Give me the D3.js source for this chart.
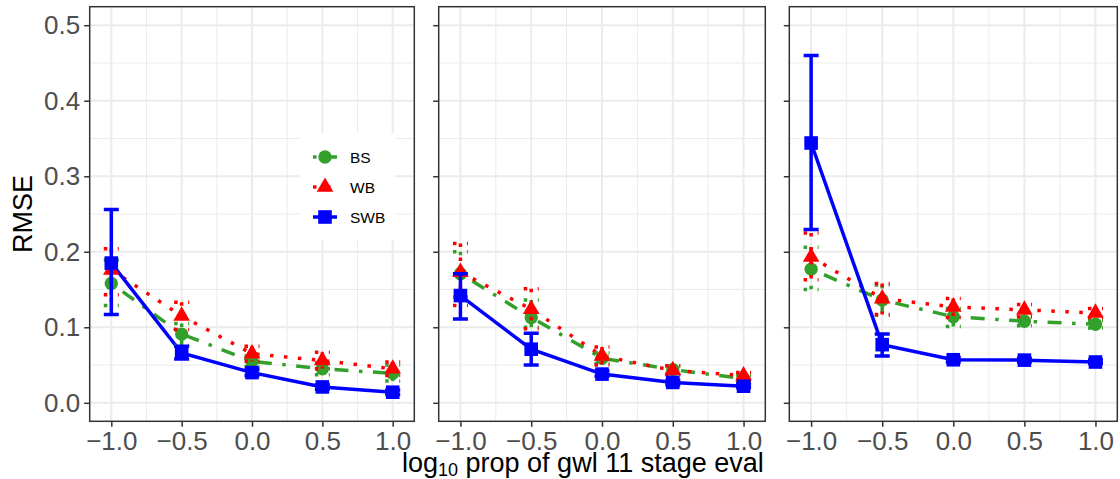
<!DOCTYPE html>
<html>
<head>
<meta charset="utf-8">
<script src="https://cdn.jsdelivr.net/npm/d3@7"></script>
<style>
  html, body { margin: 0; padding: 0; background: #ffffff; }
  svg { display: block; font-family: "Liberation Sans", Arial, sans-serif; }
</style>
</head>
<body>
<svg id="chart" width="1120" height="479"></svg>
<script>
// x positions (log10 proportion of stage evaluations)
const xValues = [-1, -0.5, 0, 0.5, 1];
const xTicks = [-1, -0.5, 0, 0.5, 1];
const yTicks = [0, 0.1, 0.2, 0.3, 0.4, 0.5];
const methods = ["BS", "WB", "SWB"];

// RMSE per panel: mean with lower / upper error bar ends
const bsMean = [
  [0.158, 0.091, 0.055, 0.045, 0.039],
  [0.171, 0.113, 0.059, 0.044, 0.032],
  [0.177, 0.136, 0.114, 0.108, 0.104]
];
const bsLow = [
  [0.129, 0.076, 0.048, 0.037, 0.029],
  [0.140, 0.100, 0.052, 0.039, 0.028],
  [0.150, 0.116, 0.101, 0.102, 0.099]
];
const bsHigh = [
  [0.189, 0.105, 0.062, 0.053, 0.050],
  [0.200, 0.136, 0.066, 0.049, 0.036],
  [0.206, 0.156, 0.125, 0.114, 0.109]
];

const wbMean = [
  [0.176, 0.115, 0.065, 0.056, 0.045],
  [0.173, 0.124, 0.062, 0.043, 0.036],
  [0.193, 0.138, 0.127, 0.123, 0.119]
];
const wbLow = [
  [0.143, 0.097, 0.055, 0.045, 0.036],
  [0.129, 0.098, 0.050, 0.037, 0.031],
  [0.163, 0.117, 0.113, 0.114, 0.113]
];
const wbHigh = [
  [0.204, 0.133, 0.075, 0.067, 0.054],
  [0.211, 0.151, 0.074, 0.049, 0.040],
  [0.225, 0.158, 0.138, 0.130, 0.125]
];

const swbMean = [
  [0.185, 0.066, 0.040, 0.021, 0.014],
  [0.142, 0.071, 0.038, 0.027, 0.022],
  [0.344, 0.077, 0.057, 0.0565, 0.054]
];
const swbLow = [
  [0.117, 0.058, 0.036, 0.018, 0.011],
  [0.111, 0.050, 0.035, 0.024, 0.020],
  [0.2295, 0.062, 0.054, 0.054, 0.052]
];
const swbHigh = [
  [0.256, 0.075, 0.044, 0.024, 0.017],
  [0.171, 0.092, 0.042, 0.030, 0.025],
  [0.460, 0.091, 0.060, 0.059, 0.057]
];

const seriesData = {
  BS:  { mean: bsMean,  low: bsLow,  high: bsHigh },
  WB:  { mean: wbMean,  low: wbLow,  high: wbHigh },
  SWB: { mean: swbMean, low: swbLow, high: swbHigh }
};

const style = {
  BS:  { color: "#33a02c", dash: "3.5,10.5,14,10.5", symbol: d3.symbolCircle,   size: 140 },
  WB:  { color: "#ff0000", dash: "3.5,10.5",         symbol: d3.symbolTriangle, size: 120 },
  SWB: { color: "#0000ff", dash: null,               symbol: d3.symbolSquare,   size: 185 }
};

const svg = d3.select("#chart");
const panelTop = 6.7, panelBottom = 421.3;
const panelBounds = [[89.7, 414.3], [438.7, 765.3], [789.3, 1117.3]];

const y = d3.scaleLinear().domain([-0.0245, 0.5245]).range([panelBottom, panelTop]);
const lineW = 3.5;
const capHalf = 7.5;

panelBounds.forEach((b, p) => {
  const x = d3.scaleLinear().domain([-1.1535, 1.1535]).range(b);
  const g = svg.append("g");

  // panel background and grid
  g.append("rect").attr("x", b[0]).attr("y", panelTop)
    .attr("width", b[1] - b[0]).attr("height", panelBottom - panelTop)
    .attr("fill", "#ffffff");

  const yMinor = d3.range(0.05, 0.5, 0.1);
  const xMinor = [-0.75, -0.25, 0.25, 0.75];
  g.selectAll(".ymin").data(yMinor).join("line")
    .attr("x1", b[0]).attr("x2", b[1])
    .attr("y1", d => y(d)).attr("y2", d => y(d))
    .attr("stroke", "#ebebeb").attr("stroke-width", 1);
  g.selectAll(".xmin").data(xMinor).join("line")
    .attr("y1", panelTop).attr("y2", panelBottom)
    .attr("x1", d => x(d)).attr("x2", d => x(d))
    .attr("stroke", "#ebebeb").attr("stroke-width", 1);
  g.selectAll(".ymaj").data(yTicks).join("line")
    .attr("x1", b[0]).attr("x2", b[1])
    .attr("y1", d => y(d)).attr("y2", d => y(d))
    .attr("stroke", "#ebebeb").attr("stroke-width", 2);
  g.selectAll(".xmaj").data(xTicks).join("line")
    .attr("y1", panelTop).attr("y2", panelBottom)
    .attr("x1", d => x(d)).attr("x2", d => x(d))
    .attr("stroke", "#ebebeb").attr("stroke-width", 2);

  // legend box sits inside the first panel
  if (p === 0) {
    const lg = g.append("g").attr("class", "legend");
    lg.append("rect").attr("x", 300).attr("y", 133).attr("width", 95).attr("height", 107)
      .attr("fill", "#ffffff");
    methods.forEach((m, i) => {
      const ky = 157 + i * 30;
      const st = style[m];
      lg.append("line").attr("x1", 313).attr("x2", 337).attr("y1", ky).attr("y2", ky)
        .attr("stroke", st.color).attr("stroke-width", lineW)
        .attr("stroke-dasharray", st.dash);
      lg.append("path").attr("d", d3.symbol(st.symbol, st.size)())
        .attr("transform", `translate(325,${ky})`).attr("fill", st.color);
      lg.append("text").attr("x", 350).attr("y", ky).attr("dy", "0.36em")
        .attr("font-size", 15.5).attr("fill", "#000000").text(m);
    });
  }

  const lineGen = d3.line().x(d => x(d.x)).y(d => y(d.v));

  // lines
  methods.forEach(m => {
    const s = seriesData[m];
    const pts = xValues.map((xv, i) => ({ x: xv, v: s.mean[p][i] }));
    g.append("path").datum(pts).attr("d", lineGen)
      .attr("fill", "none").attr("stroke", style[m].color)
      .attr("stroke-width", lineW).attr("stroke-dasharray", style[m].dash)
      .attr("stroke-linecap", "butt");
  });

  // points and error bars
  methods.forEach(m => {
    const s = seriesData[m];
    const st = style[m];
    const rows = xValues.map((xv, i) => ({ x: xv, v: s.mean[p][i], lo: s.low[p][i], hi: s.high[p][i] }));
    g.selectAll(null).data(rows).join("path")
      .attr("d", d3.symbol(st.symbol, st.size)())
      .attr("transform", d => `translate(${x(d.x)},${y(d.v)})`)
      .attr("fill", st.color);
    g.selectAll(null).data(rows).join("path")
      .attr("d", d => {
        const cx = x(d.x), yl = y(d.lo), yh = y(d.hi);
        return `M${cx - capHalf},${yh}H${cx + capHalf}M${cx},${yh}V${yl}M${cx - capHalf},${yl}H${cx + capHalf}`;
      })
      .attr("fill", "none").attr("stroke", st.color).attr("stroke-width", lineW)
      .attr("stroke-dasharray", st.dash).attr("stroke-linecap", "butt");
  });

  // panel border
  g.append("rect").attr("x", b[0]).attr("y", panelTop)
    .attr("width", b[1] - b[0]).attr("height", panelBottom - panelTop)
    .attr("fill", "none").attr("stroke", "#333333").attr("stroke-width", 1.5);

  // axes
  const xAxis = d3.axisBottom(x).tickValues(xTicks).tickSize(5.5).tickPadding(5)
    .tickFormat(d => d3.format(".1f")(d).replace("-", "\u2212"));
  const xg = g.append("g").attr("transform", `translate(0,${panelBottom})`).call(xAxis);
  xg.select(".domain").remove();
  xg.selectAll(".tick line").attr("stroke", "#333333").attr("stroke-width", 1.5);
  xg.selectAll(".tick text").attr("font-size", 26).attr("fill", "#4d4d4d")
    .attr("font-family", "Liberation Sans, Arial, sans-serif");

  const yAxis = d3.axisLeft(y).tickValues(yTicks).tickSize(5.5).tickPadding(4)
    .tickFormat(p === 0 ? d3.format(".1f") : () => "");
  const yg = g.append("g").attr("transform", `translate(${b[0]},0)`).call(yAxis);
  yg.select(".domain").remove();
  yg.selectAll(".tick line").attr("stroke", "#333333").attr("stroke-width", 1.5);
  yg.selectAll(".tick text").attr("font-size", 26).attr("fill", "#4d4d4d")
    .attr("font-family", "Liberation Sans, Arial, sans-serif");
});

// axis titles
svg.append("text")
  .attr("transform", `translate(32,${(panelTop + panelBottom) / 2}) rotate(-90)`)
  .attr("text-anchor", "middle").attr("font-size", 27).attr("fill", "#000000")
  .text("RMSE");

const xt = svg.append("text").attr("x", 402).attr("y", 472)
  .attr("font-size", 27).attr("fill", "#000000");
xt.append("tspan").text("log");
xt.append("tspan").attr("font-size", 18).attr("dy", 4).text("10");
xt.append("tspan").attr("dy", -4).text(" prop of gwl 11 stage eval");
</script>
</body>
</html>
